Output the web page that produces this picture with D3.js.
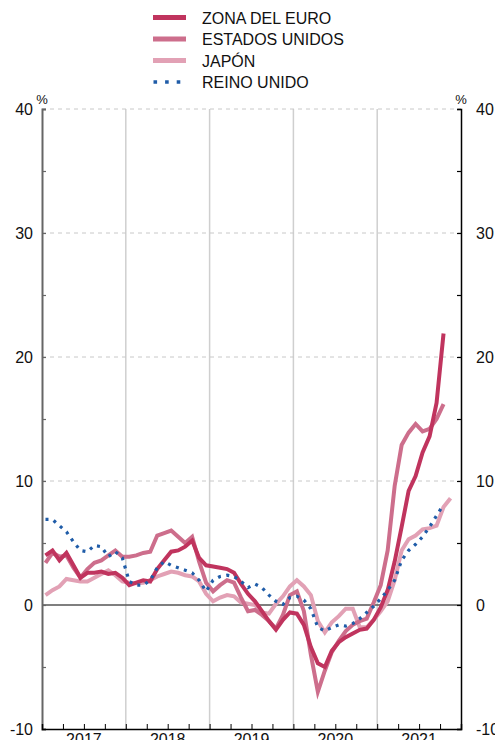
<!DOCTYPE html>
<html>
<head>
<meta charset="utf-8">
<script src="https://cdn.jsdelivr.net/npm/d3@7"></script>
<style>
  html, body { margin: 0; padding: 0; background: #fff; }
  svg { display: block; font-family: "Liberation Sans", Arial, Helvetica, sans-serif; }
</style>
</head>
<body>
<svg id="chart" width="495" height="740"></svg>
<script>
// ---- data (monthly, Jan 2017 onwards, % y/y) ----
const years = ["2017", "2018", "2019", "2020", "2021"];
const yTicks = [-10, 0, 10, 20, 30, 40];
const yMinorTicks = [-5, 5, 15, 25, 35];

const zonaEuro = [4.0, 4.4, 3.6, 4.2, 3.2, 2.2, 2.6, 2.6, 2.7, 2.5, 2.6, 2.2,
  1.6, 1.8, 2.0, 1.9, 2.9, 3.6, 4.3, 4.4, 4.7, 5.2, 3.8, 3.2,
  3.1, 3.0, 2.9, 2.6, 1.7, 0.9, 0.3, -0.5, -1.3, -2.0, -1.2, -0.6,
  -0.7, -1.6, -3.4, -4.7, -5.0, -3.7, -3.0, -2.6, -2.3, -2.0, -1.9, -1.2,
  -0.2, 1.2, 3.5, 6.3, 9.2, 10.4, 12.3, 13.6, 16.3, 21.9];

const estadosUnidos = [3.4, 4.2, 3.9, 4.0, 3.0, 2.2, 2.9, 3.4, 3.6, 4.0, 4.4, 3.9,
  3.9, 4.0, 4.2, 4.3, 5.6, 5.8, 6.0, 5.5, 5.0, 5.5, 3.5, 1.8,
  1.1, 1.6, 2.0, 1.8, 0.6, -0.5, -0.4, -0.8, -1.3, -1.9, -0.8, 0.8,
  1.1, -0.5, -4.0, -7.0, -5.3, -3.8, -2.9, -2.1, -1.6, -1.3, -1.1, 0.2,
  1.6, 4.4, 9.6, 12.9, 13.9, 14.6, 14.0, 14.2, 15.0, 16.2];

const japon = [0.8, 1.2, 1.5, 2.1, 2.0, 1.9, 1.9, 2.2, 2.5, 2.8, 2.4, 1.9,
  1.8, 1.75, 1.8, 2.0, 2.3, 2.5, 2.7, 2.6, 2.4, 2.3, 1.9, 0.9,
  0.3, 0.6, 0.8, 0.7, 0.2, 0.1, 0.0, -0.6, -0.7, 0.1, 0.7, 1.5,
  2.0, 1.5, 0.8, -1.3, -2.2, -1.4, -0.9, -0.3, -0.3, -1.8, -1.8, -1.2,
  -0.5, 0.3, 2.0, 4.4, 5.3, 5.6, 6.1, 6.2, 6.4, 7.9, 8.6];

const reinoUnido = [6.9, 6.9, 6.4, 5.9, 5.1, 4.4, 4.3, 4.8, 4.7, 3.9, 4.3, 3.8,
  1.9, 1.6, 1.6, 2.0, 3.0, 3.5, 3.2, 3.0, 2.8, 2.6, 2.0, 1.1,
  2.0, 2.3, 2.4, 2.3, 1.9, 1.4, 1.7, 1.4, 0.8, 0.3, 0.05, 0.6,
  0.7, 0.4, -0.3, -1.8, -2.1, -1.8, -1.6, -1.7, -1.5, -1.1, -0.6, -0.1,
  0.5, 1.2, 2.0, 3.6, 4.4, 4.9, 5.5, 6.3, 7.2, 8.1];

const seriesNames = ["ZONA DEL EURO", "ESTADOS UNIDOS", "JAPÓN", "REINO UNIDO"];
const seriesData = [zonaEuro, estadosUnidos, japon, reinoUnido];
const seriesColors = ["#c0345e", "#cd6e8c", "#e2a1b5", "#1f5ca8"];

// ---- layout ----
const svg = d3.select("#chart");
const pL = 42, pR = 461, pT = 109, pB = 729;

const x = d3.scaleLinear().domain([0, years.length * 12]).range([pL, pR]);
const y = d3.scaleLinear().domain([-10, 40]).range([pB, pT]);

// year separators
svg.append("g").selectAll("line")
  .data(d3.range(12, years.length * 12, 12))
  .join("line")
  .attr("x1", d => x(d)).attr("x2", d => x(d))
  .attr("y1", pT).attr("y2", pB)
  .attr("stroke", "#cfcfcf").attr("stroke-width", 1.5);

// dashed horizontal grid
svg.append("g").selectAll("line")
  .data([10, 20, 30, 40])
  .join("line")
  .attr("x1", pL).attr("x2", pR)
  .attr("y1", d => y(d)).attr("y2", d => y(d))
  .attr("stroke", "#c8c8c8").attr("stroke-width", 1)
  .attr("stroke-dasharray", "4,4");

// zero line
svg.append("line")
  .attr("x1", pL).attr("x2", pR)
  .attr("y1", y(0)).attr("y2", y(0))
  .attr("stroke", "#555").attr("stroke-width", 1.5);

// left axis
const gl = svg.append("g").attr("transform", `translate(${pL},0)`)
  .call(d3.axisLeft(y).tickValues(yTicks.concat(yMinorTicks)).tickSize(-4).tickPadding(9)
    .tickFormat(d => yTicks.includes(d) ? d : ""));
gl.select(".domain").attr("stroke", "#666").attr("stroke-width", 2);
gl.selectAll(".tick line").attr("stroke", "#666").attr("stroke-width", 1.2);
gl.selectAll(".tick text").attr("font-size", 16).attr("fill", "#111")
  .attr("font-family", "'Liberation Sans', Arial, Helvetica, sans-serif");

// right axis
const gr = svg.append("g").attr("transform", `translate(${pR},0)`)
  .call(d3.axisRight(y).tickValues(yTicks.concat(yMinorTicks)).tickSize(-4).tickPadding(15)
    .tickFormat(d => yTicks.includes(d) ? d : ""));
gr.select(".domain").attr("stroke", "#000").attr("stroke-width", 1.5);
gr.selectAll(".tick line").attr("stroke", "#000").attr("stroke-width", 1.2);
gr.selectAll(".tick text").attr("font-size", 16).attr("fill", "#111")
  .attr("font-family", "'Liberation Sans', Arial, Helvetica, sans-serif");

// bottom axis (quarterly ticks pointing up)
const gb = svg.append("g").attr("transform", `translate(0,${pB})`)
  .call(d3.axisBottom(x).tickValues(d3.range(3, years.length * 12, 3)).tickSize(-5).tickFormat(""));
gb.select(".domain").attr("stroke", "#000").attr("stroke-width", 1.5);
gb.selectAll(".tick line").attr("stroke", "#000").attr("stroke-width", 1);

// year labels
svg.append("g").selectAll("text")
  .data(years)
  .join("text")
  .attr("x", (d, i) => x(i * 12 + 6))
  .attr("y", 745)
  .attr("text-anchor", "middle")
  .attr("font-size", 16).attr("fill", "#111")
  .text(d => d);

// % units
[pL, pR].forEach(px => {
  svg.append("text").attr("x", px).attr("y", 104)
    .attr("text-anchor", "middle").attr("font-size", 13).attr("fill", "#111").text("%");
});

// series
const line = d3.line().x((d, i) => x(i + 0.5)).y(d => y(d));
const drawOrder = [2, 1, 0, 3];
drawOrder.forEach(k => {
  const p = svg.append("path")
    .datum(seriesData[k])
    .attr("d", line)
    .attr("fill", "none")
    .attr("stroke", seriesColors[k])
    .attr("stroke-linejoin", "miter");
  if (k === 3) {
    p.attr("stroke-width", 3.2).attr("stroke-dasharray", "3,5.5");
  } else {
    p.attr("stroke-width", 4);
  }
});

// legend
const lg = svg.append("g");
seriesNames.forEach((name, k) => {
  const ly = 17.5 + k * 21.5;
  const l = lg.append("line")
    .attr("x1", 153).attr("x2", 186)
    .attr("y1", ly).attr("y2", ly)
    .attr("stroke", seriesColors[k]);
  if (k === 3) {
    l.attr("x1", 153.5).attr("stroke-width", 3.6).attr("stroke-dasharray", "3.6,8");
  } else {
    l.attr("stroke-width", 5);
  }
  lg.append("text")
    .attr("x", 202).attr("y", ly + 6)
    .attr("font-size", 16).attr("fill", "#111")
    .text(name);
});
</script>
</body>
</html>
